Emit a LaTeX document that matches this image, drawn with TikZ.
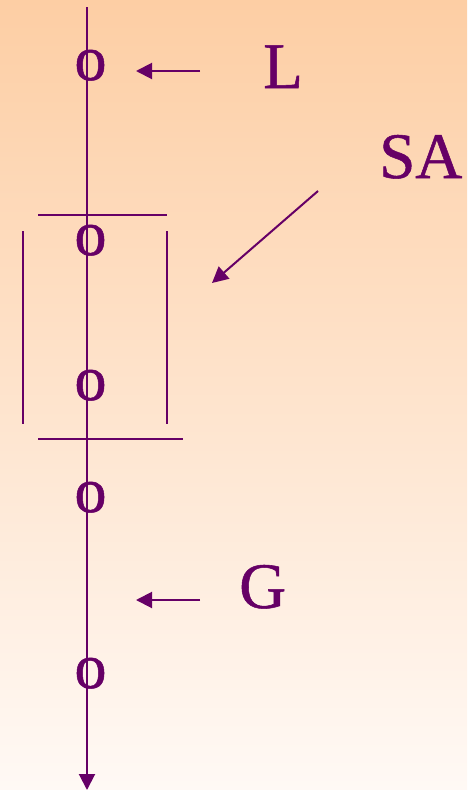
\documentclass[tikz,border=0pt]{standalone}
\usepackage{fontspec}
\setmainfont{Liberation Serif}
\newfontfamily\heavyserif[FakeBold=0.8]{Liberation Serif}
\usetikzlibrary{arrows.meta}
\definecolor{pur}{RGB}{102,0,102}
\definecolor{bgtop}{RGB}{253,206,164}
\definecolor{bgbot}{RGB}{255,249,245}
\begin{document}
\begin{tikzpicture}[x=1pt,y=-1pt,
  ln/.style={draw=pur,line width=2pt},
  arr/.style={ln,-{Triangle[length=16pt,width=16pt]}},
  oletter/.style={text=pur,font=\heavyserif\fontsize{64}{64}\selectfont,inner sep=0pt,anchor=base},
  lbl/.style={text=pur,font=\heavyserif\fontsize{65}{65}\selectfont,inner sep=0pt,anchor=base west}]
\shade[top color=bgtop,bottom color=bgbot] (0,0) rectangle (467,790);
\useasboundingbox (0,0) rectangle (467,790);
% main axis
\coordinate (top) at (87,7);
\coordinate (bot) at (87,790);
\draw[arr] (top) -- (bot);
% letters o
\node[oletter] (o1) at (90.5,80) {o};
\node[oletter] (o2) at (90.5,255) {o};
\node[oletter] (o3) at (90.5,400) {o};
\node[oletter] (o4) at (90.5,512) {o};
\node[oletter] (o5) at (90.5,688) {o};
% bracket
\coordinate (ht1) at (38,215);
\coordinate (ht2) at (167,215);
\coordinate (hb1) at (38,439);
\coordinate (hb2) at (183,439);
\coordinate (vl1) at (23,231);
\coordinate (vl2) at (23,424);
\coordinate (vr1) at (167,231);
\coordinate (vr2) at (167,424);
\draw[ln] (ht1) -- (ht2);
\draw[ln] (hb1) -- (hb2);
\draw[ln] (vl1) -- (vl2);
\draw[ln] (vr1) -- (vr2);
% labels
\node[lbl] (L) at (263,88) {L};
\node[lbl] (SA) at (379,178) {SA};
\node[lbl] (G) at (239,608) {G};
% arrows
\coordinate (aL1) at (200,71);
\coordinate (aL2) at (136,71);
\draw[arr] (aL1) -- (aL2);
\coordinate (aG1) at (200,600);
\coordinate (aG2) at (136,600);
\draw[arr] (aG1) -- (aG2);
\coordinate (aS1) at (318,191);
\coordinate (aS2) at (212,283);
\draw[arr] (aS1) -- (aS2);
\end{tikzpicture}
\end{document}
